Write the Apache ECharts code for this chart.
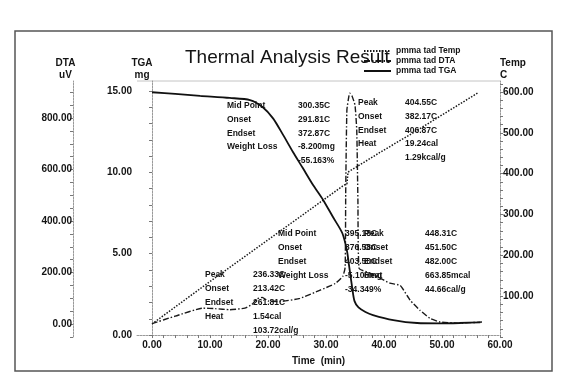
<!DOCTYPE html>
<html><head><meta charset="utf-8">
<script src="https://cdn.jsdelivr.net/npm/echarts@6/dist/echarts.min.js"></script>
<style>html,body{margin:0;padding:0;background:#fff}#c{width:565px;height:383px}</style>
</head><body><div id="c"></div>
<script>
// ---- data ----
const timeLabels = [0, 10, 20, 30, 40, 50, 60];
const tgaLabels = [0, 5, 10, 15];
const dtaLabels = [0, 200, 400, 600, 800];
const tempLabels = [100, 200, 300, 400, 500, 600];

// [time (min), value]
const tgaData = [[0,14.92],[4,14.82],[8.3,14.7],[13.4,14.57],[16.9,14.44],[19.1,14.0],[20.9,13.3],[22.6,12.3],[24.3,11.25],[26.0,10.26],[27.8,9.2],[29.5,8.3],[31.2,7.25],[32.8,6.27],[33.6,5.2],[34.0,4.2],[34.5,2.95],[34.9,2.1],[35.6,1.7],[36.8,1.42],[38.1,1.23],[41.6,0.92],[45.7,0.74],[49.7,0.72],[53.0,0.74],[56.6,0.78]];
const dtaData = [[0,2],[4,31],[8.8,62],[10.9,60],[13.4,56],[16,62],[17.2,76],[18.1,98],[19,104],[20,90],[22.1,88],[25.5,100],[29,132],[31.6,158],[32.9,186],[33.3,221],[33.4,520],[33.6,831],[33.97,889],[34.1,897],[34.5,885],[35,850],[35.3,753],[35.5,481],[35.7,217],[37.6,198],[39.3,179],[41,159],[42.8,150],[44.5,93],[46.2,54],[47.9,23],[49.7,8],[53.1,4],[56.9,8]];
const tempData = [[0,32],[10,136],[20,238],[29,330],[33.1,372],[33.6,375],[33.8,404],[39.3,452],[45,500],[56.2,598]];

const seriesNames = ['pmma tad Temp', 'pmma tad DTA', 'pmma tad TGA'];

const tgaStep1Labels = ['Mid Point', 'Onset', 'Endset', 'Weight Loss'];
const tgaStep1Values = ['300.35C', '291.81C', '372.87C', '-8.200mg', '-55.163%'];
const dtaPeak1Labels = ['Peak', 'Onset', 'Endset', 'Heat'];
const dtaPeak1Values = ['404.55C', '382.17C', '406.87C', '19.24cal', '1.29kcal/g'];
const tgaStep2Labels = ['Mid Point', 'Onset', 'Endset', 'Weight Loss'];
const tgaStep2Values = ['395.18C', '376.58C', '403.50C', '-5.106mg', '-34.349%'];
const dtaPeak2Labels = ['Peak', 'Onset', 'Endset', 'Heat'];
const dtaPeak2Values = ['448.31C', '451.50C', '482.00C', '663.85mcal', '44.66cal/g'];
const dtaPeak0Labels = ['Peak', 'Onset', 'Endset', 'Heat'];
const dtaPeak0Values = ['236.33C', '213.42C', '261.81C', '1.54cal', '103.72cal/g'];

// ---- chart ----
const FONT = '"Liberation Sans", Arial, sans-serif';
const TXT = '#141414';
function range(a, b, s) { const r = []; for (let v = a; v <= b + 1e-9; v += s) r.push(+v.toFixed(4)); return r; }

const axisLineStyle = { show: true, lineStyle: { color: '#9a9a9a', width: 1, type: [2, 1] } };
const tickStyle = { lineStyle: { color: '#777', width: 1 }, length: 3 };
const lblStyle = { color: TXT, fontFamily: FONT, fontSize: 10, fontWeight: 'bold', formatter: v => (+v).toFixed(2) };
const nameStyle = { color: TXT, fontFamily: FONT, fontSize: 10, fontWeight: 'bold', lineHeight: 12 };

function block(labels, values, xl, xv, y0, step) {
  const els = [];
  const font = 'bold 8.5px ' + FONT;
  labels.forEach((t, i) => els.push({ type: 'text', x: xl, y: y0 + i * step, z: 10, style: { text: t, font, fill: TXT, verticalAlign: 'middle' } }));
  values.forEach((t, i) => els.push({ type: 'text', x: xv, y: y0 + i * step, z: 10, style: { text: t, font, fill: TXT, verticalAlign: 'middle' } }));
  return els;
}

const chart = echarts.init(document.getElementById('c'), null, { renderer: 'canvas' });
chart.setOption({
  animation: false,
  backgroundColor: '#ffffff',
  title: { text: 'Thermal Analysis Result', left: 185, top: 48, padding: 0,
    textStyle: { fontFamily: FONT, fontSize: 19, fontWeight: 'normal', color: TXT } },
  legend: { orient: 'vertical', left: 363, top: 46, padding: 0, itemWidth: 27, itemHeight: 10, itemGap: 0,
    data: seriesNames, itemStyle: { opacity: 0 },
    textStyle: { fontFamily: FONT, fontSize: 8.5, fontWeight: 'bold', color: TXT, lineHeight: 10, padding: [0, 0, 0, 0] } },
  grid: { left: 137, right: 65, top: 81, bottom: 46 },
  xAxis: {
    type: 'value', min: -2.59, max: 60,
    name: 'Time  (min)', nameLocation: 'middle', nameGap: 14,
    nameTextStyle: nameStyle,
    axisLine: axisLineStyle,
    axisTick: Object.assign({ customValues: range(0, 60, 2) }, tickStyle),
    axisLabel: Object.assign({ customValues: timeLabels, margin: 3 }, lblStyle),
    splitLine: { show: false }
  },
  yAxis: [
    { type: 'value', position: 'left', offset: 3, min: -0.12, max: 15.61,
      name: 'TGA\nmg', nameLocation: 'end', nameGap: 0,
      nameTextStyle: Object.assign({ align: 'center', padding: [0, 20, 0, 0] }, nameStyle),
      axisLine: axisLineStyle,
      axisTick: Object.assign({ customValues: range(0, 15, 1) }, tickStyle),
      axisLabel: Object.assign({ customValues: tgaLabels, margin: 2 }, lblStyle),
      splitLine: { show: false } },
    { type: 'value', position: 'left', offset: 64, min: -50, max: 944,
      name: 'DTA\nuV', nameLocation: 'end', nameGap: 0,
      nameTextStyle: Object.assign({ align: 'center', padding: [0, 15, 0, 0] }, nameStyle),
      axisLine: axisLineStyle,
      axisTick: Object.assign({ customValues: range(-50, 900, 50) }, tickStyle),
      axisLabel: Object.assign({ customValues: dtaLabels, margin: 1 }, lblStyle),
      splitLine: { show: false } },
    { type: 'value', position: 'right', offset: 0, min: 0, max: 627,
      name: 'Temp\nC', nameLocation: 'end', nameGap: 0,
      nameTextStyle: Object.assign({ align: 'left', padding: [0, 0, 0, 0] }, nameStyle),
      axisLine: axisLineStyle,
      axisTick: Object.assign({ customValues: range(0, 620, 20) }, tickStyle),
      axisLabel: Object.assign({ customValues: tempLabels, margin: 3 }, lblStyle),
      splitLine: { show: false } }
  ],
  series: [
    { name: seriesNames[0], type: 'line', yAxisIndex: 2, data: tempData, symbol: 'none', showSymbol: false,
      lineStyle: { color: '#1a1a1a', width: 1.5, type: [1.5, 1.5] } },
    { name: seriesNames[1], type: 'line', yAxisIndex: 1, data: dtaData, symbol: 'none', showSymbol: false, smooth: 0.15,
      lineStyle: { color: '#1a1a1a', width: 1.4, type: [6, 2, 1.5, 2] } },
    { name: seriesNames[2], type: 'line', yAxisIndex: 0, data: tgaData, symbol: 'none', showSymbol: false, smooth: 0.25,
      lineStyle: { color: '#111', width: 1.8, type: 'solid' } }
  ],
  graphic: [
    { type: 'rect', shape: { x: 15, y: 31, width: 537, height: 340 }, z: -1, silent: true,
      style: { fill: 'none', stroke: '#555', lineWidth: 1.5 } },
    { type: 'line', shape: { x1: 137, y1: 81, x2: 500, y2: 81 }, z: -1, silent: true,
      style: { stroke: '#c4c4c4', lineWidth: 1 } }
  ].concat(
    block(tgaStep1Labels, tgaStep1Values, 227, 298, 106, 13.6),
    block(dtaPeak1Labels, dtaPeak1Values, 358, 405, 103, 13.6),
    block(tgaStep2Labels, tgaStep2Values, 278, 345, 234, 14),
    block(dtaPeak2Labels, dtaPeak2Values, 364, 425, 234, 14),
    block(dtaPeak0Labels, dtaPeak0Values, 205, 253, 275, 14)
  )
});
</script>
</body></html>
